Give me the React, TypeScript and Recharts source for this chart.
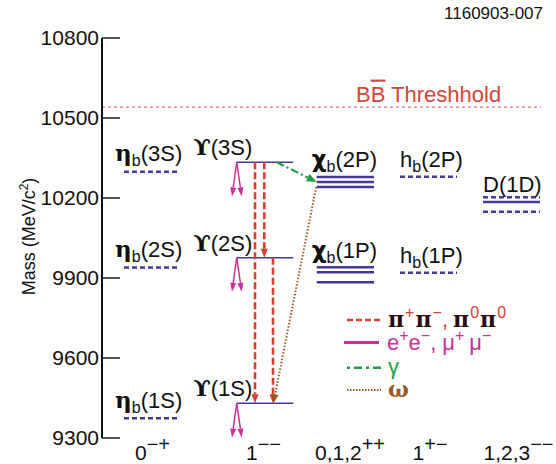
import React from "react"
import { ComposedChart, XAxis, YAxis, ReferenceLine } from "recharts"

// masses in MeV/c^2
const massTicks = [9300, 9600, 9900, 10200, 10500, 10800]
const etaB = [9374, 9939, 10298]
const etaBNames = ["1S", "2S", "3S"]
const upsilon = [9430, 9976, 10334]
const upsilonNames = ["1S", "2S", "3S"]
const chiB1P = [9884, 9922, 9940]
const chiB2P = [10241, 10260, 10279]
const hB = [9920, 10280]
const hBNames = ["1P", "2P"]
const dWave = [10148, 10185, 10203]
const bbThreshold = 10541

// J^PC of each column
const jpcBase = ["0", "1", "0,1,2", "1", "1,2,3"]
const jpcSup = ["−+", "−−", "++", "+−", "−−"]

// pi pi transitions between upsilon levels (index from -> to)
const pipiFrom = [2, 2, 1]
const pipiTo = [0, 1, 0]

// layout: x axis runs in pixel-like units across the plot area
const X_MAX = 439
const cols = [
  [22, 78],
  [134.7, 191.3],
  [214.7, 272],
  [298, 355],
  [381, 438],
]
const tickX = [50.5, 161.5, 248, 328, 416.5]
const pipiX = [153, 162.3, 171]

const LEVEL = "#45389a"
const RED = "#d8402e"
const MAGENTA = "#c8319a"
const GREEN = "#1f9e45"
const BROWN = "#9a5b22"
const TEXT = "#111"
const GREEK = '"DejaVu Serif", serif'
const SANS = '"Liberation Sans", Arial, sans-serif'

const arrowShape =
  (color: string, width: number, dash: string | undefined, headLen: number, headHalf: number) =>
  (p: any) => {
    const { x1, y1, x2, y2 } = p
    const dx = x2 - x1
    const dy = y2 - y1
    const len = Math.hypot(dx, dy) || 1
    const ux = dx / len
    const uy = dy / len
    const bx = x2 - ux * headLen
    const by = y2 - uy * headLen
    const nx = -uy * headHalf
    const ny = ux * headHalf
    return (
      <g>
        <line x1={x1} y1={y1} x2={bx} y2={by} stroke={color} strokeWidth={width} strokeDasharray={dash} />
        <polygon points={`${x2},${y2} ${bx + nx},${by + ny} ${bx - nx},${by - ny}`} fill={color} />
      </g>
    )
  }

const levelShape =
  (dash: string | undefined, width: number, label?: (x: number, y: number) => React.ReactNode) =>
  (p: any) => (
    <g>
      <line x1={p.x1} y1={p.y1} x2={p.x2} y2={p.y2} stroke={LEVEL} strokeWidth={width} strokeDasharray={dash} />
      {label && label(Math.min(p.x1, p.x2), p.y1)}
    </g>
  )

const stateName = (
  x: number,
  y: number,
  head: string,
  headFont: string | undefined,
  sub: string | undefined,
  rest: string
) => (
  <text x={x} y={y} fontSize={22} fill={TEXT} fontFamily={SANS}>
    {head && (
      <tspan fontFamily={headFont} fontWeight={headFont ? "bold" : undefined} fontSize={headFont ? 23 : 22}>
        {head}
      </tspan>
    )}
    {sub && (
      <tspan fontSize={16} dy={5}>
        {sub}
      </tspan>
    )}
    <tspan dy={sub ? -5 : 0}>{rest}</tspan>
  </text>
)

const JpcTick = (props: any) => {
  const { x, y, payload } = props
  const i = tickX.indexOf(payload.value)
  return (
    <text x={x} y={y + 22} textAnchor="middle" fontSize={21} fill={TEXT} fontFamily={SANS}>
      <tspan>{jpcBase[i]}</tspan>
      <tspan fontSize={20} dy={-9}>
        {jpcSup[i]}
      </tspan>
    </text>
  )
}

const seg = (x1: number, y1: number, x2: number, y2: number) => [
  { x: x1, y: y1 },
  { x: x2, y: y2 },
]

export default function App() {
  const magentaArrow = arrowShape(MAGENTA, 1.5, undefined, 9, 3)
  const piStyle = { fill: "#2a0c08", fontWeight: "bold" as const, fontFamily: GREEK }
  return (
    <div style={{ position: "absolute", left: 0, top: 0, width: 556, height: 464, fontFamily: SANS, background: "#fff" }}>
      <ComposedChart width={556} height={464} margin={{ top: 38, right: 15, bottom: 0, left: 0 }}>
        <XAxis
          type="number"
          dataKey="x"
          domain={[0, X_MAX]}
          allowDataOverflow
          ticks={tickX}
          interval={0}
          axisLine={false}
          tickLine={false}
          tickSize={0}
          tickMargin={0}
          height={26}
          tick={<JpcTick />}
        />
        <YAxis
          type="number"
          domain={[9300, 10800]}
          allowDataOverflow
          ticks={massTicks}
          interval={0}
          width={102}
          axisLine={{ stroke: "#111", strokeWidth: 2 }}
          tickLine={false}
          tickSize={0}
          tickMargin={3}
          tick={{ fontSize: 21, fill: TEXT }}
        />

        {/* inward tick marks */}
        {massTicks.map((t) => (
          <ReferenceLine key={`t${t}`} segment={seg(0, t, 18, t)} ifOverflow="visible" stroke="#555" strokeWidth={2} />
        ))}

        {/* BB threshold */}
        <ReferenceLine
          segment={seg(0, bbThreshold, X_MAX, bbThreshold)}
          ifOverflow="visible"
          shape={(p: any) => (
            <g>
              <line x1={p.x1} y1={p.y1} x2={p.x2} y2={p.y2} stroke="#e27070" strokeWidth={1.3} strokeDasharray="3 3" />
              <text x={p.x1 + 254} y={p.y1 - 5.5} fontSize={22} fill="#d3453b" fontFamily={SANS}>
                <tspan>B</tspan>
                <tspan style={{ textDecoration: "overline" }}>B</tspan>
                <tspan> Threshhold</tspan>
              </text>
            </g>
          )}
        />

        {/* eta_b */}
        {etaB.map((m, i) => (
          <ReferenceLine
            key={`eta${i}`}
            segment={seg(cols[0][0], m, cols[0][1], m)}
            ifOverflow="visible"
            shape={levelShape("5 3", 2.5, (x, y) => stateName(x - 9, y - 10.5, "η", GREEK, "b", `(${etaBNames[i]})`))}
          />
        ))}

        {/* Upsilon */}
        {upsilon.map((m, i) => (
          <ReferenceLine
            key={`ups${i}`}
            segment={seg(cols[1][0], m, cols[1][1], m)}
            ifOverflow="visible"
            shape={levelShape(undefined, 1.5, (x, y) => stateName(x - 43.5, y - 7, "ϒ", GREEK, undefined, `(${upsilonNames[i]})`))}
          />
        ))}

        {/* chi_b */}
        {[chiB1P, chiB2P].map((arr, k) =>
          arr.map((m, i) => (
            <ReferenceLine
              key={`chi${k}${i}`}
              segment={seg(cols[2][0], m, cols[2][1], m)}
              ifOverflow="visible"
              shape={levelShape(
                undefined,
                2.5,
                i === arr.length - 1
                  ? (x, y) => stateName(x - 5, y - 9.5, "χ", '"DejaVu Sans", sans-serif', "b", `(${k + 1}P)`)
                  : undefined
              )}
            />
          ))
        )}

        {/* h_b */}
        {hB.map((m, i) => (
          <ReferenceLine
            key={`hb${i}`}
            segment={seg(cols[3][0], m, cols[3][1], m)}
            ifOverflow="visible"
            shape={levelShape("5 3", 2.5, (x, y) => stateName(x, y - 10, "h", undefined, "b", `(${hBNames[i]})`))}
          />
        ))}

        {/* D wave */}
        {dWave.map((m, i) => (
          <ReferenceLine
            key={`d${i}`}
            segment={seg(cols[4][0], m, cols[4][1], m)}
            ifOverflow="visible"
            shape={levelShape(
              i === 1 ? undefined : "5 3",
              2.5,
              i === dWave.length - 1 ? (x, y) => stateName(x, y - 5.5, "", undefined, undefined, "D(1D)") : undefined
            )}
          />
        ))}

        {/* Upsilon -> e+e-, mu+mu- */}
        {upsilon.map((m, i) => (
          <React.Fragment key={`ll${i}`}>
            <ReferenceLine segment={seg(cols[1][0], m, cols[1][0] - 4.7, m - 128)} ifOverflow="visible" shape={magentaArrow} />
            <ReferenceLine segment={seg(cols[1][0], m, cols[1][0] + 5, m - 128)} ifOverflow="visible" shape={magentaArrow} />
          </React.Fragment>
        ))}

        {/* pi pi transitions */}
        {pipiFrom.map((f, i) => (
          <ReferenceLine
            key={`pp${i}`}
            segment={seg(pipiX[i], upsilon[f], pipiX[i], upsilon[pipiTo[i]])}
            ifOverflow="visible"
            shape={arrowShape(RED, 2.6, "7 3", 9, 3.5)}
          />
        ))}

        {/* omega: chi_b(2P) -> Upsilon(1S) */}
        <ReferenceLine
          segment={seg(cols[2][0] - 0.5, chiB2P[0], 171.3, upsilon[0])}
          ifOverflow="visible"
          shape={arrowShape(BROWN, 2, "1.5 1.8", 9, 3.5)}
        />

        {/* gamma: Upsilon(3S) -> chi_b(2P) */}
        <ReferenceLine
          segment={seg(174.7, upsilon[2], cols[2][0], chiB2P[1])}
          ifOverflow="visible"
          shape={arrowShape(GREEN, 2.2, "8 3 2 3", 10, 4)}
        />
      </ComposedChart>

      <svg width={556} height={464} style={{ position: "absolute", left: 0, top: 0, pointerEvents: "none" }}>
        <text x={543} y={19} textAnchor="end" fontSize={17} fill={TEXT} fontFamily={SANS}>
          1160903-007
        </text>
        <text transform="translate(35,236.5) rotate(-90)" textAnchor="middle" fontSize={18} fill={TEXT} fontFamily={SANS}>
          <tspan>Mass (MeV/c</tspan>
          <tspan fontSize={12} dy={-7}>
            2
          </tspan>
          <tspan dy={7}>)</tspan>
        </text>

        {/* legend */}
        <g fontFamily={SANS} fontSize={22}>
          <line x1={347} y1={320} x2={382} y2={320} stroke={RED} strokeWidth={2.5} strokeDasharray="6 3" />
          <text x={388} y={327} fill={RED}>
            <tspan {...piStyle}>π</tspan>
            <tspan fontSize={16} dx={1} dy={-9}>+</tspan>
            <tspan {...piStyle} dx={1} dy={9}>π</tspan>
            <tspan fontSize={16} dx={1} dy={-9}>−</tspan>
            <tspan dy={9}>,</tspan>
            <tspan {...piStyle} dx={5}>π</tspan>
            <tspan fontSize={16} dx={1} dy={-9}>0</tspan>
            <tspan {...piStyle} dx={1} dy={9}>π</tspan>
            <tspan fontSize={16} dx={1} dy={-9}>0</tspan>
          </text>

          <line x1={344} y1={342.5} x2={379} y2={342.5} stroke={MAGENTA} strokeWidth={3} />
          <text x={387} y={350} fill={MAGENTA}>
            <tspan>e</tspan>
            <tspan fontSize={16} dy={-9}>+</tspan>
            <tspan dy={9}>e</tspan>
            <tspan fontSize={16} dy={-9}>−</tspan>
            <tspan dy={9}>,</tspan>
            <tspan dx={6}>μ</tspan>
            <tspan fontSize={16} dy={-9}>+</tspan>
            <tspan dx={5} dy={9}>μ</tspan>
            <tspan fontSize={16} dy={-9}>−</tspan>
          </text>

          <line x1={347} y1={367.7} x2={381} y2={367.7} stroke={GREEN} strokeWidth={2.5} strokeDasharray="3 4 8 4" />
          <text x={388} y={374} fill={GREEN}>
            γ
          </text>

          <line x1={347} y1={390} x2={381} y2={390} stroke={BROWN} strokeWidth={2} strokeDasharray="1.5 1.5" />
          <text x={388} y={397} fill={BROWN} fontWeight="bold" fontFamily={GREEK}>
            ω
          </text>
        </g>
      </svg>
    </div>
  )
}
